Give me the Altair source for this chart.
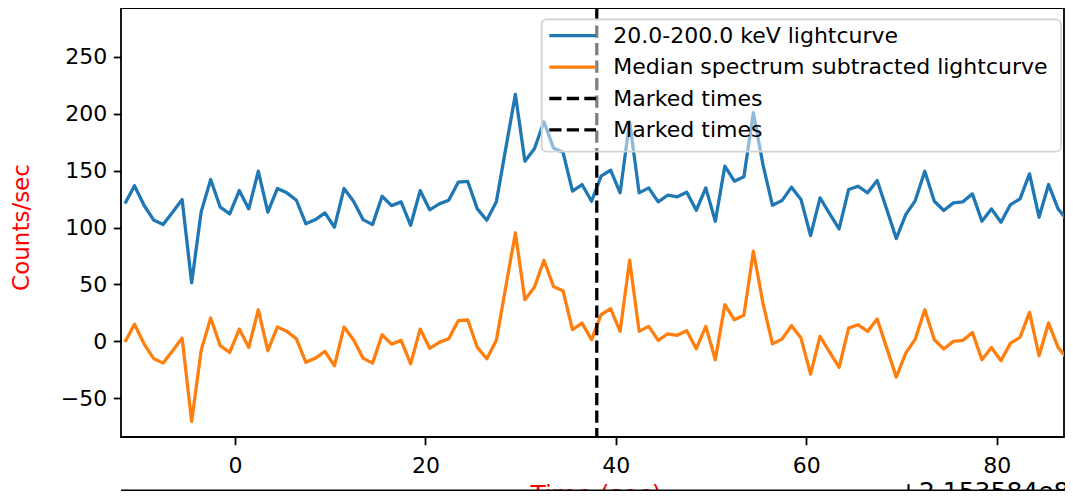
import altair as alt
import pandas as pd

# ---------------- data ----------------
time_s = [-11.55, -10.55, -9.55, -8.55, -7.55, -6.55, -5.55, -4.55, -3.55, -2.55,
          -1.55, -0.55, 0.45, 1.45, 2.45, 3.45, 4.45, 5.45, 6.45, 7.45,
          8.45, 9.45, 10.45, 11.45, 12.45, 13.45, 14.45, 15.45, 16.45, 17.45,
          18.45, 19.45, 20.45, 21.45, 22.45, 23.45, 24.45, 25.45, 26.45, 27.45,
          28.45, 29.45, 30.45, 31.45, 32.45, 33.45, 34.45, 35.45, 36.45, 37.45,
          38.45, 39.45, 40.45, 41.45, 42.45, 43.45, 44.45, 45.45, 46.45, 47.45,
          48.45, 49.45, 50.45, 51.45, 52.45, 53.45, 54.45, 55.45, 56.45, 57.45,
          58.45, 59.45, 60.45, 61.45, 62.45, 63.45, 64.45, 65.45, 66.45, 67.45,
          68.45, 69.45, 70.45, 71.45, 72.45, 73.45, 74.45, 75.45, 76.45, 77.45,
          78.45, 79.45, 80.45, 81.45, 82.45, 83.45, 84.45, 85.45, 86.45, 87.45]

lc_counts = [121.1, 136.7, 119.6, 106.7, 102.6, 113.5, 124.6, 51.4, 113.8, 142.2,
             117.9, 112.0, 132.5, 116.4, 149.5, 113.5, 134.3, 130.5, 124.0, 103.3,
             107.0, 112.9, 100.3, 134.3, 123.1, 107.0, 102.6, 127.5, 119.3, 122.6,
             102.0, 132.5, 115.6, 120.8, 124.0, 139.9, 140.5, 116.4, 106.4, 122.6,
             170.0, 217.0, 158.3, 169.2, 193.0, 170.0, 166.2, 132.0, 137.8, 123.1,
             145.1, 150.4, 130.5, 193.0, 130.5, 134.9, 122.6, 128.4, 127.0, 131.0,
             115.2, 134.9, 105.6, 153.9, 140.7, 144.6, 200.9, 155.4, 119.6, 123.7,
             135.5, 124.6, 93.0, 126.1, 112.3, 98.8, 133.4, 136.3, 130.5, 141.3,
             116.0, 90.3, 111.4, 123.7, 149.5, 123.1, 115.0, 121.7, 122.6, 129.6,
             105.6, 116.4, 104.7, 120.2, 125.2, 147.2, 109.1, 137.8, 116.4, 106.2]

sub_counts = [-0.6, 15.0, -2.1, -15.0, -19.1, -8.2, 2.9, -70.3, -7.9, 20.5,
              -3.8, -9.7, 10.8, -5.3, 27.8, -8.2, 12.6, 8.8, 2.3, -18.4,
              -14.7, -8.8, -21.4, 12.6, 1.4, -14.7, -19.1, 5.8, -2.4, 0.9,
              -19.7, 10.8, -6.1, -0.9, 2.3, 18.2, 18.8, -5.3, -15.3, 0.9,
              48.3, 95.3, 36.6, 47.5, 71.3, 48.3, 44.5, 10.3, 16.1, 1.4,
              23.4, 28.7, 8.8, 71.3, 8.8, 13.2, 0.9, 6.7, 5.3, 9.3,
              -6.5, 13.2, -16.1, 32.2, 19.0, 22.9, 79.2, 33.7, -2.1, 2.0,
              13.8, 2.9, -28.7, 4.4, -9.4, -22.9, 11.7, 14.6, 8.8, 19.6,
              -5.7, -31.4, -10.3, 2.0, 27.8, 1.4, -6.7, 0.0, 0.9, 7.9,
              -16.1, -5.3, -17.0, -1.5, 3.5, 25.5, -12.6, 16.1, -5.3, -15.5]

marked_times = [38.0]

legend_labels = ["20.0-200.0 keV lightcurve",
                 "Median spectrum subtracted lightcurve",
                 "Marked times",
                 "Marked times"]
legend_colors = ["#1f77b4", "#ff7f0e", "black", "black"]
legend_dashed = [False, False, True, True]

x_ticks = [0, 20, 40, 60, 80]
y_ticks = [-50, 0, 50, 100, 150, 200, 250]
x_title = "Time (sec)"
y_title = "Counts/sec"
offset_text = "+2.153584e8"

# ---------------- styling ----------------
W, H = 943, 429
FONT = "DejaVu Sans"
FS = 22        # tick labels / legend
FS_T = 25      # axis titles / offset text
LW = 3.3
DASH = [12.2, 5.3]
BOTTOM_PAD = 54  # keeps the page free of scrolling

df = pd.DataFrame({
    "t": time_s + time_s,
    "rate": lc_counts + sub_counts,
    "series": [legend_labels[0]] * len(time_s) + [legend_labels[1]] * len(time_s),
})

xscale = alt.Scale(domain=[-11.97, 87.07], nice=False, zero=False)
yscale = alt.Scale(domain=[-84.0, 292.9], nice=False, zero=False)

lines = alt.Chart(df).mark_line(strokeWidth=LW, strokeJoin="round", clip=True).encode(
    x=alt.X("t:Q", scale=xscale,
            axis=alt.Axis(values=x_ticks, title=None, labelPadding=11)),
    y=alt.Y("rate:Q", scale=yscale,
            axis=alt.Axis(values=y_ticks, title=None, labelPadding=6.5)),
    color=alt.Color("series:N",
                    scale=alt.Scale(domain=legend_labels[:2], range=legend_colors[:2]),
                    legend=None),
)

marks = alt.Chart(pd.DataFrame({"t": marked_times})).mark_rule(
    color="black", strokeWidth=LW, strokeDash=DASH
).encode(x=alt.X("t:Q", scale=xscale))

one = pd.DataFrame({"k": [0]})

# legend box
leg_box = alt.Chart(one).mark_rect(
    fill="white", fillOpacity=0.5, stroke="#d3d3d3", strokeWidth=1.8, cornerRadius=5
).encode(x=alt.value(420.7), x2=alt.value(940.0), y=alt.value(11.3), y2=alt.value(143.7))

leg_layers = []
for i, (lab, col, dsh) in enumerate(zip(legend_labels, legend_colors, legend_dashed)):
    py = 27.7 + 31.4 * i
    kw = dict(color=col, strokeWidth=LW)
    if dsh:
        kw["strokeDash"] = DASH
    leg_layers.append(
        alt.Chart(one).mark_rule(**kw).encode(
            x=alt.value(428.3), x2=alt.value(475.0), y=alt.value(py))
    )
    leg_layers.append(
        alt.Chart(one).mark_text(align="left", baseline="middle", font=FONT,
                                 fontSize=FS, color="black").encode(
            x=alt.value(492.3), y=alt.value(py), text=alt.value(lab))
    )

ytitle = alt.Chart(one).mark_text(angle=270, align="center", baseline="middle",
                                  font=FONT, fontSize=23, color="red").encode(
    x=alt.value(-99), y=alt.value(H / 2 + 5), text=alt.value(y_title))

# partly hidden texts at the bottom edge (as in the reference)
xtitle = alt.Chart(one).mark_text(align="center", baseline="alphabetic",
                                  font=FONT, fontSize=FS_T, color="red").encode(
    x=alt.value(475), y=alt.value(H + BOTTOM_PAD + 12), text=alt.value(x_title))

offs = alt.Chart(one).mark_text(align="left", baseline="alphabetic",
                                font=FONT, fontSize=FS_T, color="black").encode(
    x=alt.value(777), y=alt.value(H + BOTTOM_PAD + 9), text=alt.value(offset_text))

bottom_line = alt.Chart(one).mark_rule(color="black", strokeWidth=1.8).encode(
    x=alt.value(0), x2=alt.value(W), y=alt.value(H + BOTTOM_PAD - 0.5))

chart = alt.layer(
    lines, marks, leg_box, *leg_layers, ytitle, xtitle, offs, bottom_line
).properties(
    width=W, height=H,
    autosize=alt.AutoSizeParams(type="none"),
    padding={"left": 113, "top": 0, "right": 1, "bottom": BOTTOM_PAD},
).configure_view(
    stroke="black", strokeWidth=1.8
).configure_axis(
    grid=False, domain=False, ticks=True, tickColor="black", tickSize=7.7,
    tickWidth=1.8, labelFont=FONT, labelFontSize=FS, labelColor="black",
    labelFlush=False, labelOverlap=False
)

chart.save("out.html", embed_options={"renderer": "svg", "actions": False})
